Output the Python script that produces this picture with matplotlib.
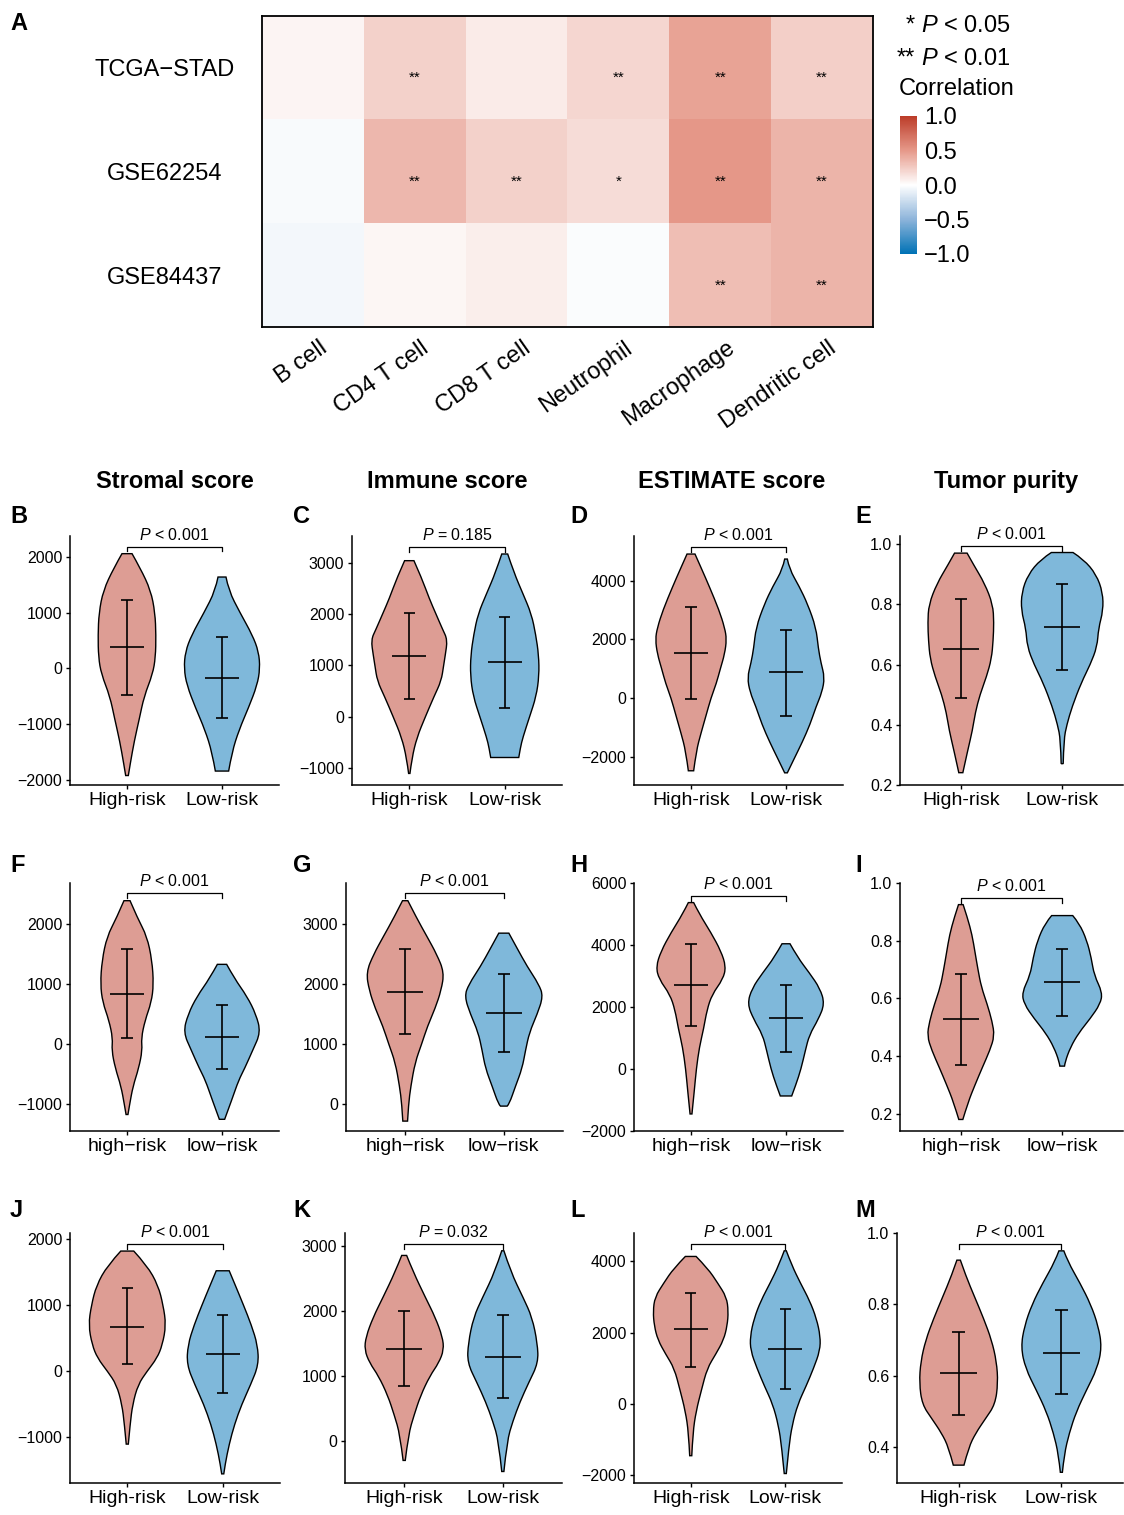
import numpy as np
import matplotlib.pyplot as plt
from matplotlib.colors import LinearSegmentedColormap
from matplotlib.path import Path
from matplotlib.patches import PathPatch
from matplotlib.ticker import FuncFormatter
from matplotlib.cm import ScalarMappable
from matplotlib.colors import Normalize

plt.rcParams['font.family'] = ['Liberation Sans', 'DejaVu Sans']
plt.rcParams['mathtext.fontset'] = 'custom'
plt.rcParams['mathtext.rm'] = 'Liberation Sans'
plt.rcParams['mathtext.it'] = 'Liberation Sans:italic'

W, H = 1124, 1515

# ---------------- panel A: correlation heatmap ----------------
cell_types = ["B cell", "CD4 T cell", "CD8 T cell", "Neutrophil", "Macrophage", "Dendritic cell"]
cohorts = ["TCGA\u2212STAD", "GSE62254", "GSE84437"]
corr_tcga = [0.05, 0.22, 0.10, 0.20, 0.45, 0.23]
corr_gse62254 = [-0.03, 0.35, 0.22, 0.17, 0.50, 0.36]
corr_gse84437 = [-0.05, 0.04, 0.08, -0.02, 0.32, 0.36]
stars_tcga = ["", "**", "", "**", "**", "**"]
stars_gse62254 = ["", "**", "**", "*", "**", "**"]
stars_gse84437 = ["", "", "", "", "**", "**"]

# ---------------- violin profiles (value, half width) ----------------
# B  TCGA stromal
b_high_y = [2060, 1800, 1400, 1000, 600, 200, -100, -500, -900, -1300, -1700, -1920]
b_high_w = [0.053, 0.14, 0.25, 0.295, 0.305, 0.30, 0.27, 0.18, 0.13, 0.077, 0.035, 0.014]
b_low_y = [1641, 1400, 1000, 600, 300, 0, -300, -700, -1100, -1500, -1840]
b_low_w = [0.042, 0.07, 0.19, 0.32, 0.386, 0.40, 0.37, 0.28, 0.18, 0.105, 0.07]
b_mean = [383, -162]
b_lower = [-473, -880]
b_upper = [1234, 557]

# C  TCGA immune
c_high_y = [3039, 2700, 2300, 2000, 1700, 1500, 1200, 1000, 700, 400, 0, -400, -800, -1100]
c_high_w = [0.049, 0.13, 0.21, 0.28, 0.35, 0.40, 0.377, 0.36, 0.335, 0.26, 0.168, 0.08, 0.028, 0.007]
c_low_y = [3169, 2800, 2400, 2000, 1600, 1200, 800, 400, 0, -400, -600, -790]
c_low_w = [0.031, 0.098, 0.19, 0.28, 0.325, 0.356, 0.36, 0.33, 0.26, 0.19, 0.164, 0.147]
c_mean = [1185, 1062]
c_lower = [342, 173]
c_upper = [2021, 1950]

# D  TCGA ESTIMATE
d_high_y = [4909, 4400, 3800, 3000, 2400, 2000, 1500, 1000, 500, 0, -600, -1200, -1800, -2480]
d_high_w = [0.042, 0.112, 0.193, 0.295, 0.354, 0.375, 0.354, 0.309, 0.267, 0.21, 0.158, 0.105, 0.056, 0.028]
d_low_y = [4738, 4400, 3800, 3200, 2400, 1700, 1200, 700, 200, -300, -900, -1500, -2100, -2550]
d_low_w = [0.014, 0.035, 0.14, 0.228, 0.316, 0.34, 0.368, 0.407, 0.379, 0.316, 0.253, 0.172, 0.081, 0.014]
d_mean = [1545, 875]
d_lower = [-34, -614]
d_upper = [3114, 2330]

# E  TCGA tumor purity
e_high_y = [0.971, 0.93, 0.87, 0.80, 0.74, 0.68, 0.62, 0.56, 0.50, 0.44, 0.38, 0.32, 0.24]
e_high_w = [0.062, 0.13, 0.235, 0.316, 0.326, 0.319, 0.303, 0.254, 0.189, 0.143, 0.114, 0.072, 0.02]
e_low_y = [0.973, 0.95, 0.90, 0.84, 0.78, 0.72, 0.66, 0.60, 0.54, 0.46, 0.40, 0.35, 0.27]
e_low_w = [0.107, 0.212, 0.336, 0.40, 0.404, 0.358, 0.345, 0.277, 0.189, 0.098, 0.046, 0.016, 0.01]
e_mean = [0.653, 0.726]
e_lower = [0.490, 0.582]
e_upper = [0.818, 0.869]

# F  GSE62254 stromal
f_high_y = [2394, 2100, 1800, 1400, 1000, 700, 400, 100, -100, -400, -700, -1000, -1170]
f_high_w = [0.032, 0.112, 0.21, 0.263, 0.28, 0.256, 0.19, 0.15, 0.161, 0.123, 0.063, 0.028, 0.01]
f_low_y = [1333, 1100, 800, 500, 200, -100, -400, -600, -900, -1250]
f_low_w = [0.049, 0.13, 0.263, 0.358, 0.407, 0.323, 0.239, 0.175, 0.109, 0.028]
f_mean = [839, 122]
f_lower = [100, -406]
f_upper = [1583, 650]

# G  GSE62254 immune
g_high_y = [3394, 3100, 2800, 2500, 2200, 1900, 1600, 1300, 1000, 700, 300, 0, -280]
g_high_w = [0.027, 0.118, 0.22, 0.32, 0.395, 0.365, 0.304, 0.226, 0.166, 0.101, 0.057, 0.034, 0.024]
g_low_y = [2853, 2600, 2300, 2000, 1800, 1500, 1200, 900, 600, 300, 0, -30]
g_low_w = [0.051, 0.135, 0.236, 0.355, 0.399, 0.338, 0.26, 0.22, 0.186, 0.118, 0.054, 0.034]
g_mean = [1878, 1522]
g_lower = [1172, 867]
g_upper = [2583, 2178]

# H  GSE62254 ESTIMATE
h_high_y = [5368, 5000, 4400, 3800, 3300, 2900, 2400, 1900, 1300, 700, 0, -700, -1450]
h_high_w = [0.028, 0.088, 0.21, 0.316, 0.368, 0.337, 0.221, 0.168, 0.133, 0.088, 0.056, 0.035, 0.01]
h_low_y = [4040, 3600, 3100, 2600, 2100, 1600, 1100, 600, 0, -500, -870]
h_low_w = [0.042, 0.123, 0.246, 0.358, 0.407, 0.34, 0.246, 0.204, 0.158, 0.105, 0.06]
h_mean = [2701, 1630]
h_lower = [1373, 538]
h_upper = [4040, 2723]

# I  GSE62254 tumor purity
i_high_y = [0.925, 0.88, 0.82, 0.76, 0.70, 0.64, 0.58, 0.52, 0.47, 0.42, 0.36, 0.30, 0.24, 0.18]
i_high_w = [0.023, 0.065, 0.111, 0.14, 0.169, 0.202, 0.26, 0.309, 0.332, 0.287, 0.212, 0.14, 0.072, 0.02]
i_low_y = [0.887, 0.86, 0.80, 0.74, 0.68, 0.62, 0.58, 0.53, 0.48, 0.43, 0.38, 0.365]
i_low_w = [0.104, 0.169, 0.244, 0.287, 0.316, 0.397, 0.375, 0.277, 0.163, 0.081, 0.029, 0.023]
i_mean = [0.527, 0.655]
i_lower = [0.369, 0.538]
i_upper = [0.684, 0.770]

# J  GSE84437 stromal
j_high_y = [1818, 1600, 1300, 1000, 700, 400, 200, 0, -200, -500, -800, -1100]
j_high_w = [0.068, 0.207, 0.323, 0.376, 0.406, 0.368, 0.312, 0.207, 0.113, 0.056, 0.03, 0.011]
j_low_y = [1520, 1300, 1000, 700, 400, 100, -200, -500, -800, -1100, -1400, -1550]
j_low_w = [0.068, 0.132, 0.218, 0.30, 0.365, 0.376, 0.293, 0.199, 0.124, 0.068, 0.026, 0.011]
j_mean = [677, 268]
j_lower = [106, -333]
j_upper = [1253, 859]

# K  GSE84437 immune
k_high_y = [2851, 2600, 2200, 1900, 1600, 1400, 1200, 1000, 700, 400, 100, -300]
k_high_w = [0.025, 0.091, 0.217, 0.315, 0.388, 0.402, 0.351, 0.261, 0.167, 0.101, 0.043, 0.011]
k_low_y = [2923, 2600, 2200, 1900, 1500, 1200, 900, 600, 300, 0, -470]
k_low_w = [0.011, 0.08, 0.207, 0.297, 0.351, 0.359, 0.264, 0.174, 0.101, 0.043, 0.011]
k_mean = [1418, 1294]
k_lower = [842, 652]
k_upper = [1998, 1931]

# L  GSE84437 ESTIMATE
l_high_y = [4141, 3800, 3400, 3000, 2600, 2200, 1800, 1400, 1000, 400, -200, -800, -1450]
l_high_w = [0.057, 0.182, 0.284, 0.379, 0.398, 0.386, 0.348, 0.265, 0.174, 0.114, 0.057, 0.023, 0.011]
l_low_y = [4300, 3900, 3400, 2900, 2400, 1900, 1500, 1000, 500, 0, -600, -1200, -1950]
l_low_w = [0.011, 0.068, 0.159, 0.258, 0.33, 0.371, 0.367, 0.299, 0.22, 0.133, 0.072, 0.038, 0.011]
l_mean = [2097, 1553]
l_lower = [1047, 428]
l_upper = [3128, 2678]

# M  GSE84437 tumor purity
m_high_y = [0.924, 0.88, 0.82, 0.76, 0.70, 0.64, 0.58, 0.52, 0.48, 0.44, 0.40, 0.35]
m_high_w = [0.017, 0.07, 0.157, 0.244, 0.321, 0.369, 0.383, 0.355, 0.261, 0.167, 0.098, 0.052]
m_low_y = [0.950, 0.92, 0.86, 0.80, 0.74, 0.68, 0.62, 0.56, 0.50, 0.44, 0.38, 0.33]
m_low_w = [0.024, 0.063, 0.181, 0.286, 0.359, 0.394, 0.348, 0.244, 0.146, 0.077, 0.028, 0.01]
m_mean = [0.607, 0.665]
m_lower = [0.491, 0.548]
m_upper = [0.724, 0.785]

p_texts = ["< 0.001", "= 0.185", "< 0.001", "< 0.001",
           "< 0.001", "< 0.001", "< 0.001", "< 0.001",
           "< 0.001", "= 0.032", "< 0.001", "< 0.001"]
titles = ["Stromal score", "Immune score", "ESTIMATE score", "Tumor purity"]
labels_upper = ["High-risk", "Low-risk"]
labels_lower = ["high\u2212risk", "low\u2212risk"]

HIGH_COL = "#DD9D94"
LOW_COL = "#7FB8DA"

fig = plt.figure(figsize=(W / 100, H / 100), dpi=100)


def px_axes(left, top, right, bottom):
    return fig.add_axes([left / W, 1 - bottom / H, (right - left) / W, (bottom - top) / H])


def ftext(x, y, s, **kw):
    fig.text(x / W, 1 - y / H, s, **kw)


# ---------------- heatmap ----------------
cmap = LinearSegmentedColormap.from_list(
    "nejm", [(0.0, "#0072B5"), (0.25, "#8DB4DA"), (0.5, "white"), (0.75, "#E6998A"), (1.0, "#BC3C29")])
corr = np.array([corr_tcga, corr_gse62254, corr_gse84437])
stars = [stars_tcga, stars_gse62254, stars_gse84437]

ax = px_axes(262, 16, 873, 327)
ax.imshow(corr, cmap=cmap, vmin=-1, vmax=1, aspect="auto", interpolation="nearest")
for i in range(3):
    for j in range(6):
        if stars[i][j]:
            ax.text(j, i + 0.1, stars[i][j], ha="center", va="center", fontsize=11)
for s in ax.spines.values():
    s.set_linewidth(1.3)
ax.set_yticks(range(3))
ax.set_yticklabels(cohorts, fontsize=17)
ax.tick_params(axis="y", length=0, pad=70)
for lbl in ax.get_yticklabels():
    lbl.set_horizontalalignment("center")
ax.set_xticks([])
for j, name in enumerate(cell_types):
    ax.annotate(name, xy=(j, 0), xycoords=("data", "axes fraction"), xytext=(4, -7),
                textcoords="offset points", ha="right", va="top", rotation=35,
                rotation_mode="anchor", fontsize=17)

# legend
ftext(915, 32, "*", ha="right", va="baseline", fontsize=17)
ftext(921, 32, r"$P$ < 0.05", ha="left", va="baseline", fontsize=17)
ftext(915, 65, "**", ha="right", va="baseline", fontsize=17)
ftext(921, 65, r"$P$ < 0.01", ha="left", va="baseline", fontsize=17)
ftext(899, 95, "Correlation", ha="left", va="baseline", fontsize=17)
cax = px_axes(900, 116, 917, 254)
cb = fig.colorbar(ScalarMappable(norm=Normalize(-1, 1), cmap=cmap), cax=cax, ticks=[-1, -0.5, 0, 0.5, 1])
cb.outline.set_visible(False)
cb.ax.tick_params(length=0, pad=5, labelsize=17)
cb.ax.yaxis.set_major_formatter(FuncFormatter(lambda v, _: f"{v:.1f}".replace("-0.0", "0.0").replace("-", "\u2212")))

ftext(10, 30, "A", fontsize=17, weight="bold", va="baseline")

# ---------------- violin panels ----------------
def smooth_side(pts):
    v, c = [], []
    n = len(pts)
    for k in range(1, n - 2):
        mid = ((pts[k][0] + pts[k + 1][0]) / 2, (pts[k][1] + pts[k + 1][1]) / 2)
        v += [pts[k], mid]
        c += [Path.CURVE3, Path.CURVE3]
    v += [pts[n - 2], pts[n - 1]]
    c += [Path.CURVE3, Path.CURVE3]
    return v, c


def violin(ax, xc, ys, ws, color):
    right = [(xc + w, y) for y, w in zip(ys, ws)]
    left = [(xc - w, y) for y, w in zip(ys, ws)][::-1]
    verts, codes = [right[0]], [Path.MOVETO]
    v, c = smooth_side(right)
    verts += v
    codes += c
    verts.append(left[0])
    codes.append(Path.LINETO)
    v, c = smooth_side(left)
    verts += v
    codes += c
    verts.append(right[0])
    codes.append(Path.CLOSEPOLY)
    ax.add_patch(PathPatch(Path(verts, codes), facecolor=color, edgecolor="black", lw=1.0, zorder=2))


panels = [
    dict(letter="B", box=(70, 536, 279, 785), ylim=(-2090, 2377), ticks=[-2000, -1000, 0, 1000, 2000],
         hy=b_high_y, hw=b_high_w, ly=b_low_y, lw=b_low_w, mean=b_mean, lo=b_lower, up=b_upper, br=(2180, 2102)),
    dict(letter="C", box=(352, 536, 562, 785), ylim=(-1325, 3519), ticks=[-1000, 0, 1000, 2000, 3000],
         hy=c_high_y, hw=c_high_w, ly=c_low_y, lw=c_low_w, mean=c_mean, lo=c_lower, up=c_upper, br=(3298, 3214)),
    dict(letter="D", box=(634, 536, 843, 785), ylim=(-2965, 5524), ticks=[-2000, 0, 2000, 4000],
         hy=d_high_y, hw=d_high_w, ly=d_low_y, lw=d_low_w, mean=d_mean, lo=d_lower, up=d_upper, br=(5136, 4989)),
    dict(letter="E", box=(900, 536, 1123, 785), ylim=(0.199, 1.028), ticks=[0.2, 0.4, 0.6, 0.8, 1.0],
         hy=e_high_y, hw=e_high_w, ly=e_low_y, lw=e_low_w, mean=e_mean, lo=e_lower, up=e_upper, br=(0.994, 0.978)),
    dict(letter="F", box=(70, 883, 279, 1131), ylim=(-1445, 2689), ticks=[-1000, 0, 1000, 2000],
         hy=f_high_y, hw=f_high_w, ly=f_low_y, lw=f_low_w, mean=f_mean, lo=f_lower, up=f_upper, br=(2517, 2433)),
    dict(letter="G", box=(346, 883, 563, 1131), ylim=(-445, 3689), ticks=[0, 1000, 2000, 3000],
         hy=g_high_y, hw=g_high_w, ly=g_low_y, lw=g_low_w, mean=g_mean, lo=g_lower, up=g_upper, br=(3517, 3433)),
    dict(letter="H", box=(634, 883, 843, 1131), ylim=(-2000, 6000), ticks=[-2000, 0, 2000, 4000, 6000],
         hy=h_high_y, hw=h_high_w, ly=h_low_y, lw=h_low_w, mean=h_mean, lo=h_lower, up=h_upper, br=(5582, 5432)),
    dict(letter="I", box=(900, 883, 1123, 1131), ylim=(0.14, 1.0), ticks=[0.2, 0.4, 0.6, 0.8, 1.0],
         hy=i_high_y, hw=i_high_w, ly=i_low_y, lw=i_low_w, mean=i_mean, lo=i_lower, up=i_upper, br=(0.949, 0.932)),
    dict(letter="J", box=(70, 1233, 280, 1483), ylim=(-1688, 2091), ticks=[-1000, 0, 1000, 2000],
         hy=j_high_y, hw=j_high_w, ly=j_low_y, lw=j_low_w, mean=j_mean, lo=j_lower, up=j_upper, br=(1924, 1848)),
    dict(letter="K", box=(345, 1233, 562, 1483), ylim=(-647, 3196), ticks=[0, 1000, 2000, 3000],
         hy=k_high_y, hw=k_high_w, ly=k_low_y, lw=k_low_w, mean=k_mean, lo=k_lower, up=k_upper, br=(3026, 2949)),
    dict(letter="L", box=(634, 1233, 842, 1483), ylim=(-2216, 4799), ticks=[-2000, 0, 2000, 4000],
         hy=l_high_y, hw=l_high_w, ly=l_low_y, lw=l_low_w, mean=l_mean, lo=l_lower, up=l_upper, br=(4487, 4347)),
    dict(letter="M", box=(897, 1233, 1123, 1483), ylim=(0.30, 1.0), ticks=[0.4, 0.6, 0.8, 1.0],
         hy=m_high_y, hw=m_high_w, ly=m_low_y, lw=m_low_w, mean=m_mean, lo=m_lower, up=m_upper, br=(0.969, 0.955)),
]

letter_x = [10, 293, 570, 855]
letter_base = [523, 872, 1217]
title_x = [175, 447, 732, 1006]

for idx, p in enumerate(panels):
    row, col = divmod(idx, 4)
    ax = px_axes(*p["box"])
    violin(ax, 1, p["hy"], p["hw"], HIGH_COL)
    violin(ax, 2, p["ly"], p["lw"], LOW_COL)
    xs = [1, 2]
    ax.vlines(xs, p["lo"], p["up"], color="black", lw=1.2, zorder=3)
    ax.hlines(p["lo"], [x - 0.06 for x in xs], [x + 0.06 for x in xs], color="black", lw=1.2, zorder=3)
    ax.hlines(p["up"], [x - 0.06 for x in xs], [x + 0.06 for x in xs], color="black", lw=1.2, zorder=3)
    ax.hlines(p["mean"], [x - 0.18 for x in xs], [x + 0.18 for x in xs], color="black", lw=1.2, zorder=3)

    top, drop = p["br"]
    ax.plot([1, 1, 2, 2], [drop, top, top, drop], color="black", lw=0.9, clip_on=False)
    ax.annotate(r"$P$ " + p_texts[idx], xy=(1.5, top), xytext=(0, 3), textcoords="offset points",
                ha="center", va="bottom", fontsize=11.5)

    ax.set_xlim(0.4, 2.6)
    ax.set_ylim(*p["ylim"])
    ax.set_yticks(p["ticks"])
    if p["ticks"][-1] <= 1.0:
        ax.yaxis.set_major_formatter(FuncFormatter(lambda v, _: f"{v:.1f}"))
    else:
        ax.yaxis.set_major_formatter(FuncFormatter(lambda v, _: f"{v:.0f}".replace("-", "\u2212")))
    ax.set_xticks(xs)
    ax.set_xticklabels(labels_lower if row == 1 else labels_upper)
    ax.tick_params(axis="y", labelsize=11.5, length=3, width=1, pad=2.5)
    ax.tick_params(axis="x", labelsize=14, length=3, width=1, pad=2)
    for s in ("top", "right"):
        ax.spines[s].set_visible(False)
    for s in ("left", "bottom"):
        ax.spines[s].set_linewidth(1.1)

    ftext(letter_x[col], letter_base[row], p["letter"], fontsize=17, weight="bold", va="baseline")
    if row == 0:
        ftext(title_x[col], 488, titles[col], fontsize=17, weight="bold", ha="center", va="baseline")

fig.savefig("out.png", dpi=100)
